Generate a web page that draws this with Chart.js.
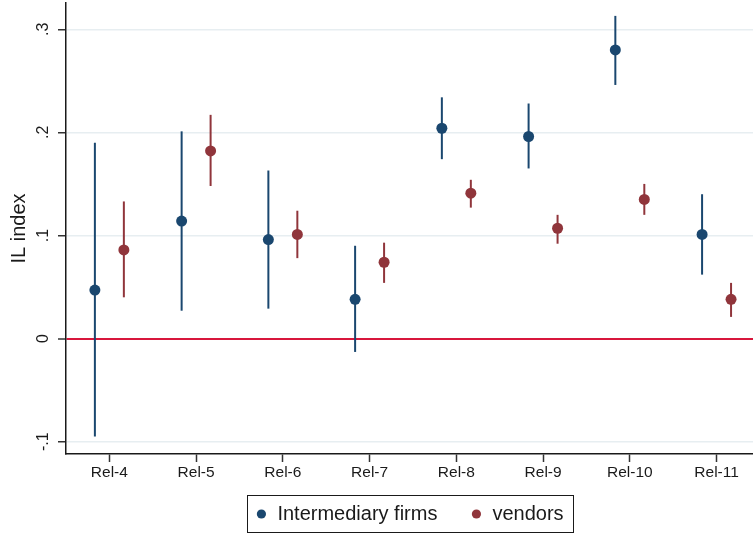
<!DOCTYPE html>
<html>
<head>
<meta charset="utf-8">
<script src="https://cdn.jsdelivr.net/npm/chart.js@4/dist/chart.umd.min.js"></script>
<style>
  html, body { margin: 0; padding: 0; background: #fff; }
  canvas { display: block; }
</style>
</head>
<body>
<canvas id="ilChart" width="753" height="534"></canvas>
<script>
// Categories on the x axis
const categories = ['Rel-4', 'Rel-5', 'Rel-6', 'Rel-7', 'Rel-8', 'Rel-9', 'Rel-10', 'Rel-11'];

// Intermediary firms: point estimate and confidence interval
const firmsEst = [0.047, 0.114, 0.096, 0.038, 0.204, 0.196, 0.280, 0.101];
const firmsLo  = [-0.095, 0.027, 0.029, -0.013, 0.174, 0.165, 0.246, 0.062];
const firmsHi  = [0.190, 0.201, 0.163, 0.090, 0.234, 0.228, 0.313, 0.140];

// Vendors: point estimate and confidence interval
const vendorsEst = [0.086, 0.182, 0.101, 0.074, 0.141, 0.107, 0.135, 0.038];
const vendorsLo  = [0.040, 0.148, 0.078, 0.054, 0.127, 0.092, 0.120, 0.021];
const vendorsHi  = [0.133, 0.217, 0.124, 0.093, 0.154, 0.120, 0.150, 0.054];

// y axis ticks
const yTickValues = [-0.1, 0, 0.1, 0.2, 0.3];
const yTickLabels = ['-.1', '0', '.1', '.2', '.3'];

const FONT = 'Liberation Sans, Arial, sans-serif';
const BLUE = '#1a476f';
const RED  = '#90353b';
const SHIFT = 0.167;   // horizontal dodge of the two series

function points(est, shift) {
  return est.map((v, i) => ({ x: i + 1 + shift, y: v }));
}

// Draw the confidence interval lines under the dots
const errorBars = {
  id: 'errorBars',
  beforeDatasetsDraw(chart) {
    const ctx = chart.ctx;
    const xs = chart.scales.x, ys = chart.scales.y;
    chart.data.datasets.forEach(ds => {
      ctx.save();
      ctx.strokeStyle = ds.backgroundColor;
      ctx.lineWidth = 2;
      ds.data.forEach((p, i) => {
        const px = xs.getPixelForValue(p.x);
        ctx.beginPath();
        ctx.moveTo(px, ys.getPixelForValue(ds.lo[i]));
        ctx.lineTo(px, ys.getPixelForValue(ds.hi[i]));
        ctx.stroke();
      });
      ctx.restore();
    });
  }
};

// The x axis is kept short for the layout; let its labels draw below it
const axisRoom = {
  id: 'axisRoom',
  afterLayout(chart) {
    chart.scales.x.bottom = chart.height;
  }
};

// Frame around the legend, Stata style
const legendFrame = {
  id: 'legendFrame',
  afterDraw(chart) {
    const boxes = chart.legend.legendHitBoxes;
    if (!boxes || !boxes.length) return;
    let l = Infinity, r = -Infinity, t = Infinity, b = -Infinity;
    boxes.forEach(h => {
      l = Math.min(l, h.left); r = Math.max(r, h.left + h.width);
      t = Math.min(t, h.top);  b = Math.max(b, h.top + h.height);
    });
    const ctx = chart.ctx;
    ctx.save();
    ctx.strokeStyle = '#1a1a1a';
    ctx.lineWidth = 1;
    ctx.strokeRect(Math.round(l - 8) + 0.5, Math.round(t - 9) + 0.5, Math.round(r - l + 18), Math.round(b - t + 17));
    ctx.restore();
  }
};

new Chart(document.getElementById('ilChart'), {
  type: 'scatter',
  data: {
    datasets: [
      {
        label: 'Intermediary firms',
        data: points(firmsEst, -SHIFT),
        lo: firmsLo,
        hi: firmsHi,
        backgroundColor: BLUE,
        borderColor: BLUE,
        borderWidth: 0,
        pointRadius: 5.5,
        pointHoverRadius: 5.5,
      },
      {
        label: 'vendors',
        data: points(vendorsEst, SHIFT),
        lo: vendorsLo,
        hi: vendorsHi,
        backgroundColor: RED,
        borderColor: RED,
        borderWidth: 0,
        pointRadius: 5.5,
        pointHoverRadius: 5.5,
      },
    ]
  },
  options: {
    responsive: false,
    animation: false,
    layout: { autoPadding: false, padding: { top: 3, right: 0, left: 0, bottom: 0 } },
    plugins: {
      tooltip: { enabled: false },
      legend: {
        position: 'bottom',
        fullSize: false,
        labels: {
          usePointStyle: true,
          pointStyle: 'circle',
          boxWidth: 12,
          boxHeight: 6.5,
          padding: 33,
          color: '#1a1a1a',
          font: { family: FONT, size: 20 },
        },
      },
    },
    scales: {
      x: {
        type: 'linear',
        min: 0.5,
        max: 8.42,
        afterBuildTicks: scale => {
          scale.ticks = categories.map((c, i) => ({ value: i + 1 }));
        },
        afterFit: scale => {
          scale.height = 17;
          scale.paddingLeft = 0;
          scale.paddingRight = 0;
        },
        ticks: {
          minRotation: 0,
          maxRotation: 0,
          padding: 1,
          color: '#1a1a1a',
          font: { family: FONT, size: 15.5 },
          callback: value => categories[Math.round(value) - 1],
        },
        grid: {
          drawOnChartArea: false,
          tickLength: 8,
          tickColor: '#333',
          tickWidth: 1.5,
        },
        border: { display: true, color: '#1a1a1a', width: 1.5 },
      },
      y: {
        type: 'linear',
        min: -0.112,
        max: 0.3255,
        afterBuildTicks: scale => {
          scale.ticks = yTickValues.map(v => ({ value: v }));
        },
        afterFit: scale => {
          scale.width = 66;
          scale.paddingTop = 0;
          scale.paddingBottom = 0;
        },
        ticks: {
          minRotation: 90,
          maxRotation: 90,
          crossAlign: 'center',
          padding: 5,
          color: '#1a1a1a',
          font: { family: FONT, size: 16 },
          callback: value => yTickLabels[yTickValues.findIndex(v => Math.abs(v - value) < 1e-9)],
        },
        title: {
          display: true,
          text: 'IL index',
          color: '#1a1a1a',
          font: { family: FONT, size: 20 },
          padding: { top: 7, bottom: 0 },
        },
        grid: {
          color: c => (c.tick && Math.abs(c.tick.value) < 1e-9) ? '#d8163c' : '#e7eef1',
          lineWidth: c => (c.tick && Math.abs(c.tick.value) < 1e-9) ? 2 : 1.5,
          tickLength: 8,
          tickColor: '#333',
          tickWidth: 1.5,
        },
        border: { display: true, color: '#1a1a1a', width: 1.5 },
      },
    },
  },
  plugins: [errorBars, axisRoom, legendFrame],
});
</script>
</body>
</html>
